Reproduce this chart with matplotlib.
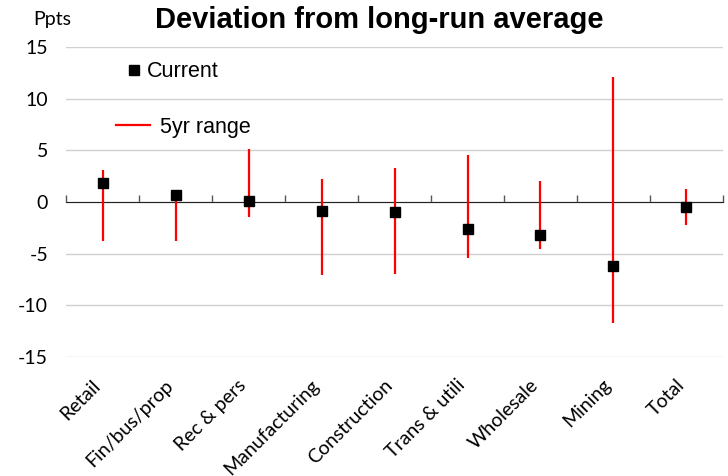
import numpy as np
import matplotlib.pyplot as plt
from matplotlib.lines import Line2D
from matplotlib.transforms import ScaledTranslation

categories = ["Retail", "Fin/bus/prop", "Rec & pers", "Manufacturing", "Construction",
              "Trans & utili", "Wholesale", "Mining", "Total"]
current = [1.8, 0.65, 0.15, -0.9, -1.0, -2.65, -3.2, -6.2, -0.5]
range_low = [-3.75, -3.75, -1.4, -7.1, -7.0, -5.4, -4.5, -11.7, -2.2]
range_high = [3.1, 1.15, 5.1, 2.2, 3.3, 4.55, 2.0, 12.1, 1.3]
yticks = [-15, -10, -5, 0, 5, 10, 15]

tick_font = "Lato"
x = np.arange(len(categories))

fig = plt.figure(figsize=(7.28, 4.76), dpi=100)
ax = fig.add_axes([0.091, 0.25, 0.902, 0.651])

ax.vlines(x, range_low, range_high, color="#ff0000", lw=1.6, zorder=3)
ax.plot(x, current, ls="none", marker="s", ms=7, color="black", zorder=4)

ax.set_xlim(-0.5, len(categories) - 0.5)
ax.set_ylim(-15, 15)
ax.set_yticks(yticks)
ax.set_yticklabels([str(v) for v in yticks], fontsize=14, family=tick_font)
ax.tick_params(axis="y", length=0, pad=13)
ax.yaxis.grid(True, color="#d0d0d0", lw=1)
ax.set_axisbelow(True)
for s in ["top", "right", "left"]:
    ax.spines[s].set_visible(False)

# zero line with boundary ticks
ax.spines["bottom"].set_position(("data", 0))
ax.spines["bottom"].set_color("#222222")
ax.set_xticks(x)
ax.set_xticklabels([])
ax.tick_params(axis="x", which="major", length=0)
ax.set_xticks(np.arange(len(categories) + 1) - 0.5, minor=True)
ax.tick_params(axis="x", which="minor", direction="in", length=5, width=1, color="#555555")

# category labels at the bottom of the plot
sec = ax.secondary_xaxis(0.0)
sec.set_xticks(x)
sec.set_xticklabels(categories, rotation=45, ha="right", rotation_mode="anchor",
                    fontsize=14, family=tick_font)
sec.tick_params(length=0, pad=14)
sec.spines["bottom"].set_visible(False)
shift = ScaledTranslation(-0.11, 0, fig.dpi_scale_trans)
for lbl in sec.get_xticklabels():
    lbl.set_transform(lbl.get_transform() + shift)

leg_prop = {"family": "Liberation Sans", "size": 15.5}
leg1 = fig.legend([Line2D([], [], ls="none", marker="s", ms=7, color="black")], ["Current"],
                  loc="center left", bbox_to_anchor=(0.174, 0.849), frameon=False,
                  borderpad=0, borderaxespad=0, handlelength=0.7, handletextpad=0.25,
                  prop=leg_prop)
leg2 = fig.legend([Line2D([], [], color="#ff0000", lw=1.6)], ["5yr range"],
                  loc="center left", bbox_to_anchor=(0.159, 0.733), frameon=False,
                  borderpad=0, borderaxespad=0, handlelength=1.6, handletextpad=0.45,
                  prop=leg_prop)

fig.text(0.521, 0.957, "Deviation from long-run average", ha="center", va="center",
         fontsize=21, fontweight="bold", family="Liberation Sans")
fig.text(0.046, 0.958, "Ppts", ha="left", va="center", fontsize=14, family=tick_font)

fig.savefig("out.png", dpi=100)
